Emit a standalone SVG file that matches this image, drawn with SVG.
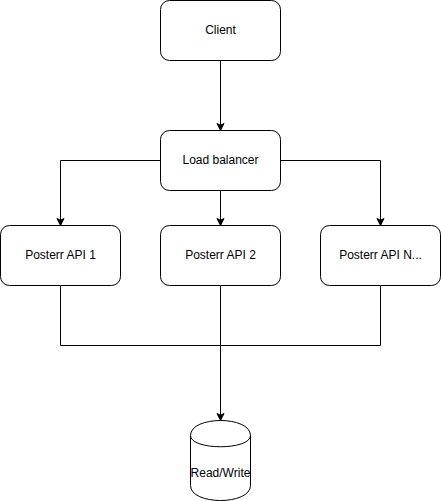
<svg xmlns="http://www.w3.org/2000/svg" width="441" height="501" viewBox="0 0 441 501">
<defs>
<style>
.box{fill:#ffffff;stroke:#000000;stroke-width:1}
.lbl{font-family:"Liberation Sans",Arial,Helvetica,sans-serif;font-size:12px;fill:#000000;text-anchor:middle}
.edge{fill:none;stroke:#000000;stroke-width:1}
</style>
<marker id="arrow" markerUnits="userSpaceOnUse" viewBox="-8 -5 10 10" refX="0" refY="0" markerWidth="10" markerHeight="10" orient="auto">
<path d="M0,0 L-7,-3.5 L-5.25,0 L-7,3.5 Z" fill="#000000" stroke="#000000" stroke-width="1"/>
</marker>
</defs>
<rect width="441" height="501" fill="#ffffff"/>
<g id="connectors">
<path class="edge" d="M220.5,60.5 L220.5,130.5" marker-end="url(#arrow)"/>
<path class="edge" d="M160.5,160.5 L60.5,160.5 L60.5,225.5" marker-end="url(#arrow)"/>
<path class="edge" d="M220.5,190.5 L220.5,225.5" marker-end="url(#arrow)"/>
<path class="edge" d="M280.5,160.5 L380.5,160.5 L380.5,225.5" marker-end="url(#arrow)"/>
<path class="edge" d="M60.5,285.5 L60.5,345.5 L220.5,345.5"/>
<path class="edge" d="M380.5,285.5 L380.5,345.5 L220.5,345.5"/>
<path class="edge" d="M220.5,285.5 L220.5,420.5" marker-end="url(#arrow)"/>
</g>
<g id="client">
<rect class="box" x="160.5" y="0.5" width="120" height="60" rx="9" ry="9"/>
<text class="lbl" x="220.5" y="34">Client</text>
</g>
<g id="load-balancer">
<rect class="box" x="160.5" y="130.5" width="120" height="60" rx="9" ry="9"/>
<text class="lbl" x="220.5" y="164">Load balancer</text>
</g>
<g id="api1">
<rect class="box" x="0.5" y="225.5" width="120" height="60" rx="9" ry="9"/>
<text class="lbl" x="60.5" y="259">Posterr API 1</text>
</g>
<g id="api2">
<rect class="box" x="160.5" y="225.5" width="120" height="60" rx="9" ry="9"/>
<text class="lbl" x="220.5" y="259">Posterr API 2</text>
</g>
<g id="apiN">
<rect class="box" x="320.5" y="225.5" width="120" height="60" rx="9" ry="9"/>
<text class="lbl" x="380.5" y="259">Posterr API N...</text>
</g>
<g id="database">
<path class="box" d="M190.5,435.5 C190.5,415.5 250.5,415.5 250.5,435.5 L250.5,485.5 C250.5,505.5 190.5,505.5 190.5,485.5 Z"/>
<path class="edge" d="M190.5,435.5 C190.5,450.5 250.5,450.5 250.5,435.5"/>
<text class="lbl" x="220.5" y="477">Read/Write</text>
</g>
</svg>
